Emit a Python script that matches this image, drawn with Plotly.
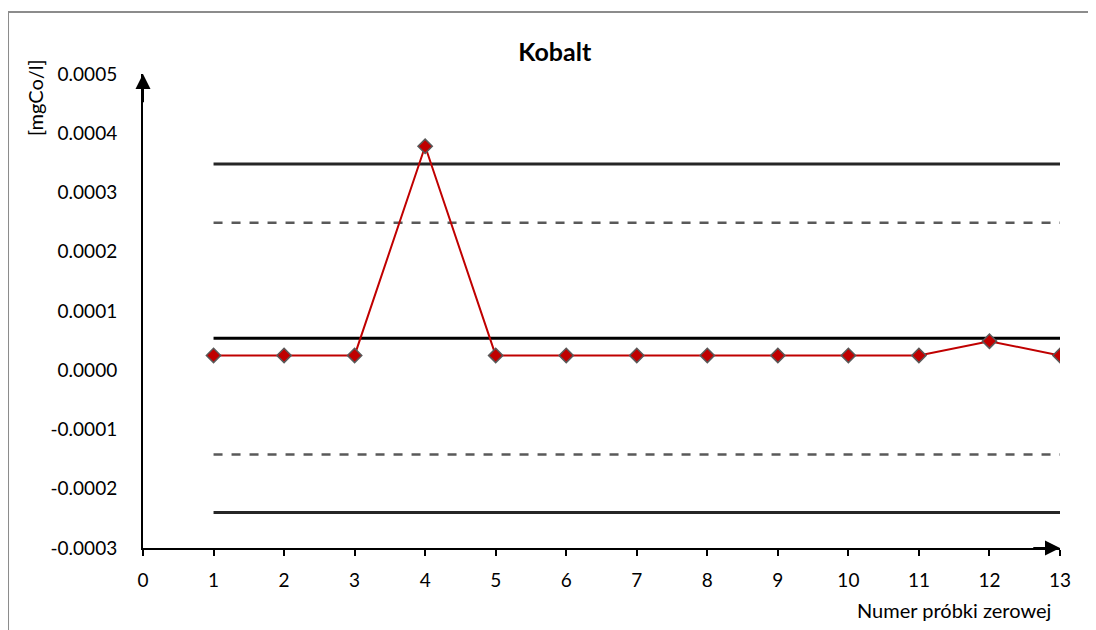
import plotly.graph_objects as go

# sample numbers and measured Co values
samples = [1, 2, 3, 4, 5, 6, 7, 8, 9, 10, 11, 12, 13]
cobalt = [0.000025, 0.000025, 0.000025, 0.000378, 0.000025, 0.000025, 0.000025,
          0.000025, 0.000025, 0.000025, 0.000025, 0.000049, 0.000025]

# control chart limits
center = 0.000054
warn_upper = 0.000249
warn_lower = -0.000142
action_upper = 0.000348
action_lower = -0.000240

x_ticks = list(range(0, 14))
y_ticks = [-0.0003, -0.0002, -0.0001, 0.0, 0.0001, 0.0002, 0.0003, 0.0004, 0.0005]
y_labels = ["%.4f" % v for v in y_ticks]  # plain hyphen minus like the original

FONT = "Lato"

fig = go.Figure()

x_span = [samples[0], samples[-1]]
for val, dash, col, w in [(action_upper, "solid", "#262626", 3),
                          (warn_upper, "dash", "#595959", 2.5),
                          (center, "solid", "#000000", 3),
                          (warn_lower, "dash", "#595959", 2.5),
                          (action_lower, "solid", "#262626", 3)]:
    fig.add_trace(go.Scatter(x=x_span, y=[val, val], mode="lines",
                             line=dict(color=col, width=w, dash=dash),
                             hoverinfo="skip", showlegend=False))

fig.add_trace(go.Scatter(x=samples, y=cobalt, mode="lines+markers",
                         line=dict(color="#C00000", width=2),
                         marker=dict(symbol="diamond", size=11, color="#C00000",
                                     line=dict(color="#595959", width=1.5)),
                         showlegend=False))

# axis arrows
fig.add_annotation(x=13, y=-0.0003, ax=12.6, ay=-0.0003, xref="x", yref="y",
                   axref="x", ayref="y", showarrow=True, arrowhead=2,
                   arrowsize=1.5, arrowwidth=2, arrowcolor="black", text="")
fig.add_annotation(x=0, y=0.0005, ax=0, ay=0.00045, xref="x", yref="y",
                   axref="x", ayref="y", showarrow=True, arrowhead=2,
                   arrowsize=1.5, arrowwidth=2, arrowcolor="black", text="")

fig.add_annotation(text="[mgCo/l]", textangle=-90, x=-0.1178, y=0.9515,
                   xref="paper", yref="paper", xanchor="center", yanchor="middle",
                   showarrow=False, font=dict(family=FONT, size=20, color="black"))
fig.add_annotation(text="Numer próbki zerowej", x=0.992, y=-0.131,
                   xref="paper", yref="paper", xanchor="right", yanchor="middle",
                   showarrow=False, font=dict(family=FONT, size=20, color="black"))

# outer chart border
fig.add_shape(type="rect", xref="paper", yref="paper", x0=-0.1472, y0=-0.3,
              x1=1.2, y1=1.131, line=dict(color="#8c8c8c", width=2))

fig.update_layout(
    width=1088, height=622,
    margin=dict(l=135, r=36, t=66, b=82),
    paper_bgcolor="white", plot_bgcolor="white",
    font=dict(family=FONT, size=19, color="black"),
    title=dict(text="<b>Kobalt</b>", x=0.449, xref="paper", xanchor="center",
               y=0.929, yref="container", yanchor="middle",
               font=dict(family=FONT, size=25, color="black")),
    xaxis=dict(range=[0, 13], tickvals=x_ticks, showgrid=False, zeroline=False,
               showline=True, linecolor="black", linewidth=2,
               ticks="outside", ticklen=6, tickwidth=2, tickcolor="black",
               ticklabelstandoff=8),
    yaxis=dict(range=[-0.0003, 0.0005], tickvals=y_ticks, ticktext=y_labels,
               showgrid=False, zeroline=False, showline=True, linecolor="black",
               linewidth=2, ticks="", ticklabelstandoff=20),
)

fig.write_html("out.html")
